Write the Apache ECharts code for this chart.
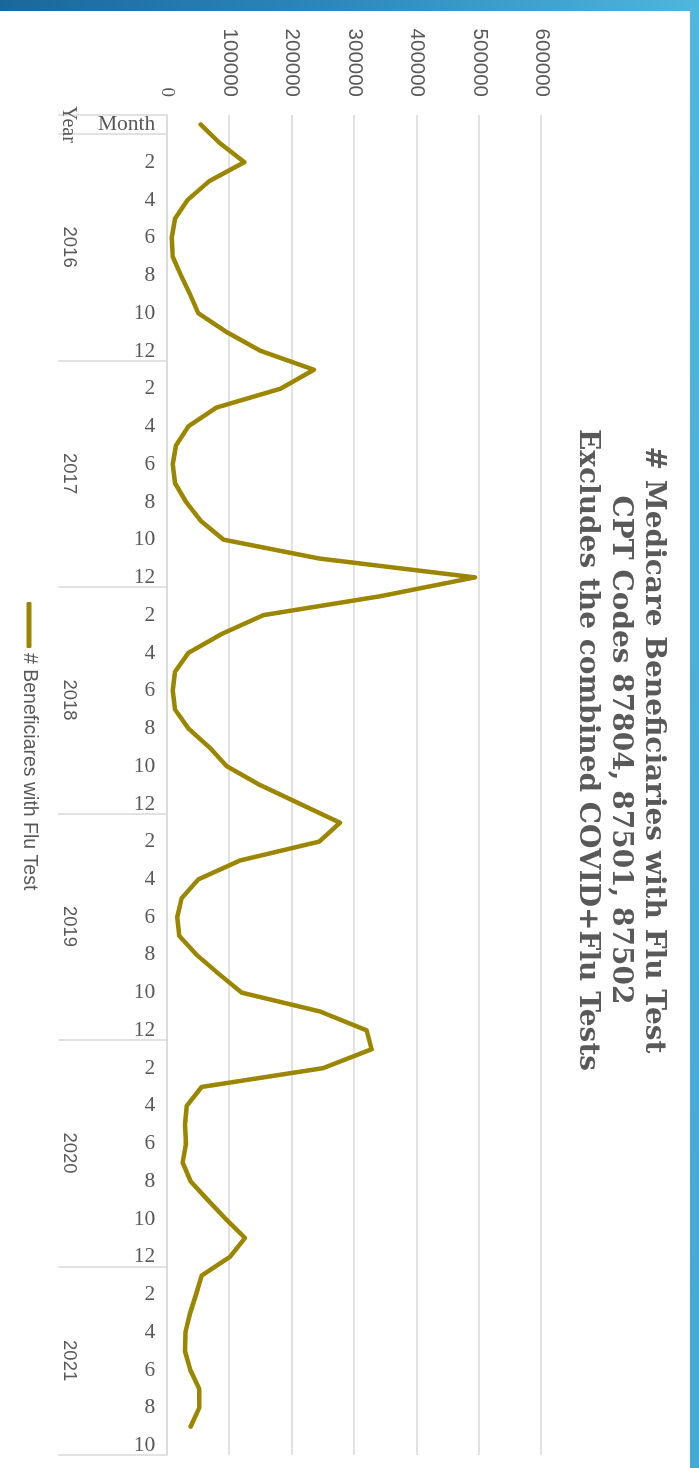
<!DOCTYPE html>
<html>
<head>
<meta charset="utf-8">
<title># Medicare Beneficiaries with Flu Test</title>
<script src="https://cdn.jsdelivr.net/npm/echarts@6/dist/echarts.min.js"></script>
<style>
  html, body { margin: 0; padding: 0; width: 699px; height: 1468px; overflow: hidden; background: #ffffff; }
  /* the chart is laid out landscape and turned a quarter clockwise onto the portrait page */
  #chart { position: absolute; left: 0; top: 0; width: 1468px; height: 699px;
           transform-origin: 0 0; transform: translate(699px, 0) rotate(90deg); }
  #topband { position: absolute; left: 0; top: 0; width: 699px; height: 11px; z-index: 2;
             background: linear-gradient(90deg, #1a679c 0%, #2b86b9 45%, #4fb6dd 100%); }
  #sideband { position: absolute; left: 690px; top: 0; width: 9px; height: 1468px; z-index: 2;
              background: linear-gradient(180deg, #4fb6dd 0%, #43a9d5 100%); }
</style>
</head>
<body>
<div id="topband"></div>
<div id="sideband"></div>
<div id="chart"></div>
<script>
// Years shown on the outer category level and how many months each has
const years = ['2016', '2017', '2018', '2019', '2020', '2021'];
const monthsInYear = [12, 12, 12, 12, 12, 10];
const headerMonth = 'Month';
const headerYear = 'Year';

// Monthly number of beneficiaries with a flu test
const beneficiaries = [
  53500, 84500, 123500, 67400, 32600, 12300, 7000, 8600, 22000, 36400, 49700, 95000,
  149600, 235000, 181600, 79000, 33700, 14000, 8600, 12300, 30000, 53500, 90000, 243600,
  493000, 341000, 154000, 87000, 33700, 12300, 8600, 12300, 33700, 67400, 95000, 148500,
  212600, 276800, 243600, 116500, 49700, 23000, 16000, 19300, 47000, 82300, 119000, 244700,
  319500, 327500, 250000, 55000, 31000, 28400, 30000, 24600, 37400, 65200, 94000, 124500,
  100500, 55000, 46000, 36400, 29000, 28400, 37000, 51300, 51300, 37400, null
];

// Value axis ticks
const valueTicks = [0, 100000, 200000, 300000, 400000, 500000, 600000];

const seriesName = '# Beneficiares with Flu Test';
const titleLines = [
  '# Medicare Beneficiaries with Flu Test',
  'CPT Codes 87804, 87501, 87502',
  'Excludes the combined COVID+Flu Tests'
];

// Month categories: a header slot followed by every month of every year
const categories = [headerMonth];
const yearStart = [];
years.forEach(function (y, i) {
  yearStart.push(categories.length);
  for (let m = 1; m <= monthsInYear[i]; m++) categories.push(String(m));
});
const separatorIdx = new Set([0].concat(yearStart));

// Centre of each year group in band units along the category axis
const yearCentres = years.map(function (y, i) { return yearStart[i] + monthsInYear[i] / 2; });

const grey = '#595959';
const gridGrey = '#d9d9d9';
const lineColor = '#9c8600';

const chart = echarts.init(document.getElementById('chart'), null, { renderer: 'canvas' });
chart.setOption({
  animation: false,
  backgroundColor: '#ffffff',
  title: {
    text: titleLines.join('\n'),
    left: 745,
    top: 24,
    textAlign: 'center',
    textStyle: {
      fontFamily: 'DejaVu Serif',
      fontWeight: 'bold',
      fontSize: 28,
      lineHeight: 33,
      color: grey
    }
  },
  legend: {
    data: [{ name: seriesName, icon: 'roundRect' }],
    left: 597,
    top: 655,
    itemWidth: 46,
    itemHeight: 5,
    itemGap: 8,
    itemStyle: { color: lineColor, borderWidth: 0 },
    textStyle: { fontFamily: 'Liberation Sans', fontSize: 19.5, color: grey }
  },
  grid: {
    left: 115,
    right: 13,
    top: 157.3,
    bottom: 167.3,
    containLabel: false,
    outerBoundsMode: 'none'
  },
  xAxis: [
    {
      type: 'category',
      data: categories,
      boundaryGap: true,
      axisLine: { show: true, lineStyle: { color: gridGrey, width: 1.5 } },
      axisTick: {
        show: true,
        length: 109,
        interval: function (idx) { return separatorIdx.has(idx); },
        lineStyle: { color: gridGrey, width: 1.5 }
      },
      axisLabel: {
        interval: 1,
        rotate: 90,
        margin: 12,
        fontFamily: 'Liberation Serif',
        fontSize: 21.5,
        color: grey
      },
      splitLine: { show: false }
    },
    {
      type: 'value',
      position: 'bottom',
      min: 0,
      max: categories.length,
      interval: 0.5,
      axisLine: { show: false },
      axisTick: { show: false },
      splitLine: { show: false },
      axisLabel: {
        margin: 89,
        showMinLabel: true,
        showMaxLabel: true,
        formatter: function (v) {
          if (Math.abs(v - 0.5) < 1e-6) return '{h|' + headerYear + '}';
          for (let i = 0; i < yearCentres.length; i++) {
            if (Math.abs(v - yearCentres[i]) < 1e-6) return '{y|' + years[i] + '}';
          }
          return '';
        },
        rich: {
          h: { fontFamily: 'Liberation Serif', fontSize: 20, color: grey },
          y: { fontFamily: 'Liberation Sans', fontSize: 18.5, color: grey }
        }
      }
    }
  ],
  yAxis: {
    type: 'value',
    min: valueTicks[0],
    max: valueTicks[valueTicks.length - 1],
    interval: valueTicks[1] - valueTicks[0],
    axisLine: { show: false },
    axisTick: { show: false },
    splitLine: { show: true, lineStyle: { color: gridGrey, width: 1.5 } },
    axisLabel: {
      margin: 18,
      formatter: function (v) { return v === 0 ? '{z|0}' : String(v); },
      fontFamily: 'Liberation Sans',
      fontSize: 20.5,
      color: grey,
      rich: { z: { fontFamily: 'Liberation Serif', fontSize: 19, color: grey } }
    }
  },
  series: [
    {
      name: seriesName,
      type: 'line',
      xAxisIndex: 0,
      yAxisIndex: 0,
      data: beneficiaries,
      symbol: 'none',
      smooth: false,
      lineStyle: { color: lineColor, width: 4.5, join: 'round', cap: 'round' },
      itemStyle: { color: lineColor }
    }
  ]
});
</script>
</body>
</html>
